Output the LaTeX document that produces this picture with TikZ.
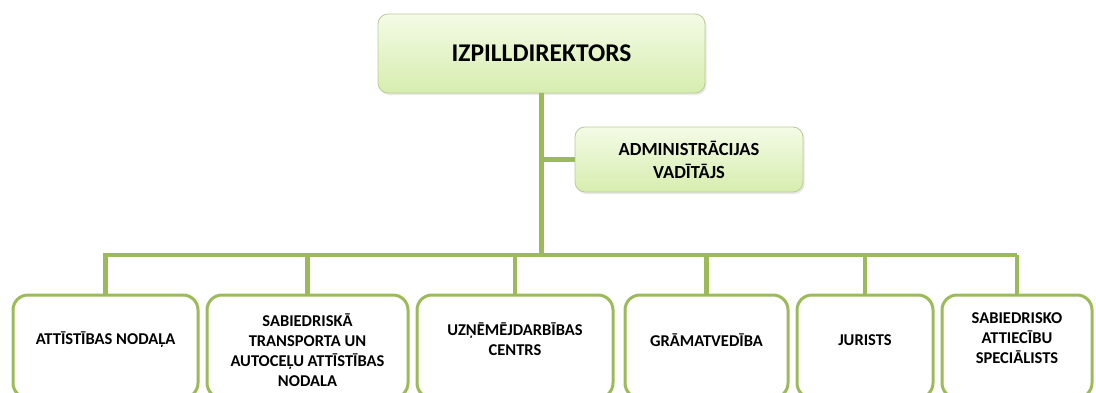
\documentclass[tikz,border=0pt]{standalone}
\usepackage{fontspec}
\setmainfont{Carlito}
\usetikzlibrary{shadows}

\definecolor{olive}{HTML}{9BBB59}
\definecolor{boxtop}{HTML}{F4FBE6}
\definecolor{boxbot}{HTML}{D6EDAE}
\definecolor{boxedge}{HTML}{B7CB98}

\tikzset{
  headbox/.style={draw=boxedge, line width=0.8pt, rounded corners=10pt,
    top color=boxtop, bottom color=boxbot,
    drop shadow={opacity=0.18, shadow xshift=1.5pt, shadow yshift=-2pt},
    font=\bfseries, align=center, inner sep=0pt},
  unitbox/.style={draw=olive, line width=3pt, rounded corners=15pt, fill=white,
    minimum height=103pt, inner sep=0pt},
  unittext/.style={font=\bfseries\fontsize{16.5}{20}\selectfont, align=center},
  link/.style={draw=olive, line width=4.5pt}
}

\begin{document}
\begin{tikzpicture}[x=1pt,y=-1pt]
    \useasboundingbox (0,0) rectangle (1096,392);

    % top of the chart
    \node[headbox, minimum width=327pt, minimum height=79pt,
          font=\bfseries\fontsize{25.5}{28}\selectfont] (director) at (541.5,53.5) {IZPILLDIREKTORS};
    \node[headbox, minimum width=228pt, minimum height=65pt,
          font=\bfseries\fontsize{18.5}{23}\selectfont] (admin) at (689,159.5) {ADMINISTRĀCIJAS\\VADĪTĀJS};

    % departments
    \node[unitbox, minimum width=185pt] (b1) at (105.5,346.5) {};
    \node[unitbox, minimum width=201pt] (b2) at (307.5,346.5) {};
    \node[unitbox, minimum width=196pt] (b3) at (515,346.5) {};
    \node[unitbox, minimum width=163pt] (b4) at (706.5,346.5) {};
    \node[unitbox, minimum width=136pt] (b5) at (865,346.5) {};
    \node[unitbox, minimum width=150pt] (b6) at (1017,346.5) {};

    \node[unittext] (t1) at (105.5,340) {ATTĪSTĪBAS NODAĻA};
    \node[unittext] (t2) at (307.5,350) {SABIEDRISKĀ\\TRANSPORTA UN\\AUTOCEĻU ATTĪSTĪBAS\\NODALA};
    \node[unittext] (t3) at (515,339) {UZŅĒMĒJDARBĪBAS\\CENTRS};
    \node[unittext] (t4) at (706.5,340) {GRĀMATVEDĪBA};
    \node[unittext] (t5) at (865,340) {JURISTS};
    \node[unittext] (t6) at (1017,338) {SABIEDRISKO\\ATTIECĪBU\\SPECIĀLISTS};

    % connectors
    \coordinate (busL) at (103,255);
    \coordinate (busR) at (1017,255);
    \coordinate (trunk) at (director.south |- busL);
    \path[link] (director.south) -- (trunk);
    \path[link] (director.south |- admin.west) -- (admin.west);
    \path[link] (busL) -- (busR);
    \foreach \b in {b1,b2,b3,b4,b5,b6}
        \path[link] (\b.north |- busL) -- (\b.north);
\end{tikzpicture}
\end{document}
